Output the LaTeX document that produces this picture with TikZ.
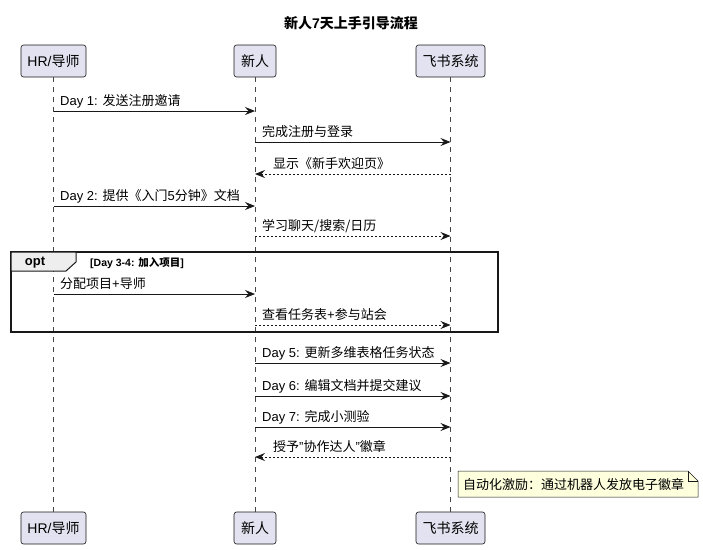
\documentclass[tikz,border=0pt]{standalone}
\usepackage{fontspec}
\setmainfont{Liberation Sans}
\newfontfamily\cjk{Noto Sans CJK SC}
\usetikzlibrary{arrows.meta,calc}
\definecolor{partfill}{HTML}{E2E2F0}
\definecolor{lineC}{HTML}{181818}
\definecolor{notefill}{HTML}{FEFFDD}
\definecolor{tabfill}{HTML}{EEEEEE}
\begin{document}
\begin{tikzpicture}[x=1pt,y=1pt,
 part/.style={draw=lineC, fill=partfill, rounded corners=2.5pt, line width=0.6pt, minimum height=32pt, inner xsep=0pt, font=\fontsize{14}{16}\selectfont},
 lifeline/.style={draw=lineC!80, line width=0.5pt, dash pattern=on 5pt off 5pt},
 msg/.style={draw=lineC, line width=0.9pt, -{Stealth[length=10pt,width=8pt,inset=3.5pt]}},
 reply/.style={msg, dash pattern=on 2pt off 2pt},
 lbl/.style={anchor=base west, inner sep=0pt, font=\fontsize{13}{15}\selectfont, text=black}]
\useasboundingbox (0,0) rectangle (703,-549);
% title
\node[font=\bfseries\fontsize{14}{16}\selectfont] (title) at (351,-23) {{\cjk 新人}7{\cjk 天上手引导流程}};
% participants
\node[part, minimum width=65pt] (hrT) at (53.5,-61) {HR/{\cjk 导师}};
\node[part, minimum width=42pt] (nrT) at (255,-61) {\cjk 新人};
\node[part, minimum width=69pt] (fsT) at (450.5,-61) {\cjk 飞书系统};
\node[part, minimum width=65pt] (hrB) at (53.5,-528) {HR/{\cjk 导师}};
\node[part, minimum width=42pt] (nrB) at (255,-528) {\cjk 新人};
\node[part, minimum width=69pt] (fsB) at (450.5,-528) {\cjk 飞书系统};
\draw[lifeline] (hrT.south) -- (hrB.north);
\draw[lifeline] (nrT.south) -- (nrB.north);
\draw[lifeline] (fsT.south) -- (fsB.north);
% opt frame
\draw[lineC, line width=1.4pt] (11,-252) rectangle (498,-332);
\draw[lineC, fill=tabfill, line width=1pt] (11,-252) -- (76,-252) -- (76,-262) -- (66,-271) -- (11,-271) -- cycle;
\node[font=\bfseries\fontsize{13}{15}\selectfont, inner sep=0pt] (optl) at (35,-262.5) {opt};
\node[anchor=base west, inner sep=0pt, font=\bfseries\fontsize{10.5}{12}\selectfont] (guard) at (90,-266) {[Day 3-4: {\cjk 加入项目}]};
% messages
\draw[msg]   (hrT.south |- 0,-111) -- (nrT.south |- 0,-111);
\node[lbl] (l1) at (60,-105.5) {Day 1: {\cjk 发送注册邀请}};
\draw[msg]   (nrT.south |- 0,-142) -- (fsT.south |- 0,-142);
\node[lbl] (l2) at (262,-136.5) {\cjk 完成注册与登录};
\draw[reply] (fsT.south |- 0,-174) -- (nrT.south |- 0,-174);
\node[lbl] (l3) at (273,-168.5) {\cjk 显示《新手欢迎页》};
\draw[msg]   (hrT.south |- 0,-206) -- (nrT.south |- 0,-206);
\node[lbl] (l4) at (60,-200.5) {Day 2: {\cjk 提供《入门}5{\cjk 分钟》文档}};
\draw[reply] (nrT.south |- 0,-236) -- (fsT.south |- 0,-236);
\node[lbl] (l5) at (262,-230.5) {\cjk 学习聊天/搜索/日历};
\draw[msg]   (hrT.south |- 0,-294) -- (nrT.south |- 0,-294);
\node[lbl] (l6) at (60,-288.5) {{\cjk 分配项目}+{\cjk 导师}};
\draw[reply] (nrT.south |- 0,-325) -- (fsT.south |- 0,-325);
\node[lbl] (l7) at (262,-319.5) {{\cjk 查看任务表}+{\cjk 参与站会}};
\draw[msg]   (nrT.south |- 0,-363) -- (fsT.south |- 0,-363);
\node[lbl] (l8) at (262,-357.5) {Day 5: {\cjk 更新多维表格任务状态}};
\draw[msg]   (nrT.south |- 0,-396) -- (fsT.south |- 0,-396);
\node[lbl] (l9) at (262,-390.5) {Day 6: {\cjk 编辑文档并提交建议}};
\draw[msg]   (nrT.south |- 0,-427) -- (fsT.south |- 0,-427);
\node[lbl] (l10) at (262,-421.5) {Day 7: {\cjk 完成小测验}};
\draw[reply] (fsT.south |- 0,-457) -- (nrT.south |- 0,-457);
\node[lbl] (l11) at (273,-451.5) {{\cjk 授予}"{\cjk 协作达人}"{\cjk 徽章}};
% note
\draw[lineC, fill=notefill, line width=0.5pt] (458,-471) -- (688,-471) -- (698,-481) -- (698,-497) -- (458,-497) -- cycle;
\draw[lineC, line width=0.5pt] (688,-471) -- (688,-481) -- (698,-481);
\node[lbl] (note) at (463,-489) {\cjk 自动化激励：通过机器人发放电子徽章};
\end{tikzpicture}
\end{document}
